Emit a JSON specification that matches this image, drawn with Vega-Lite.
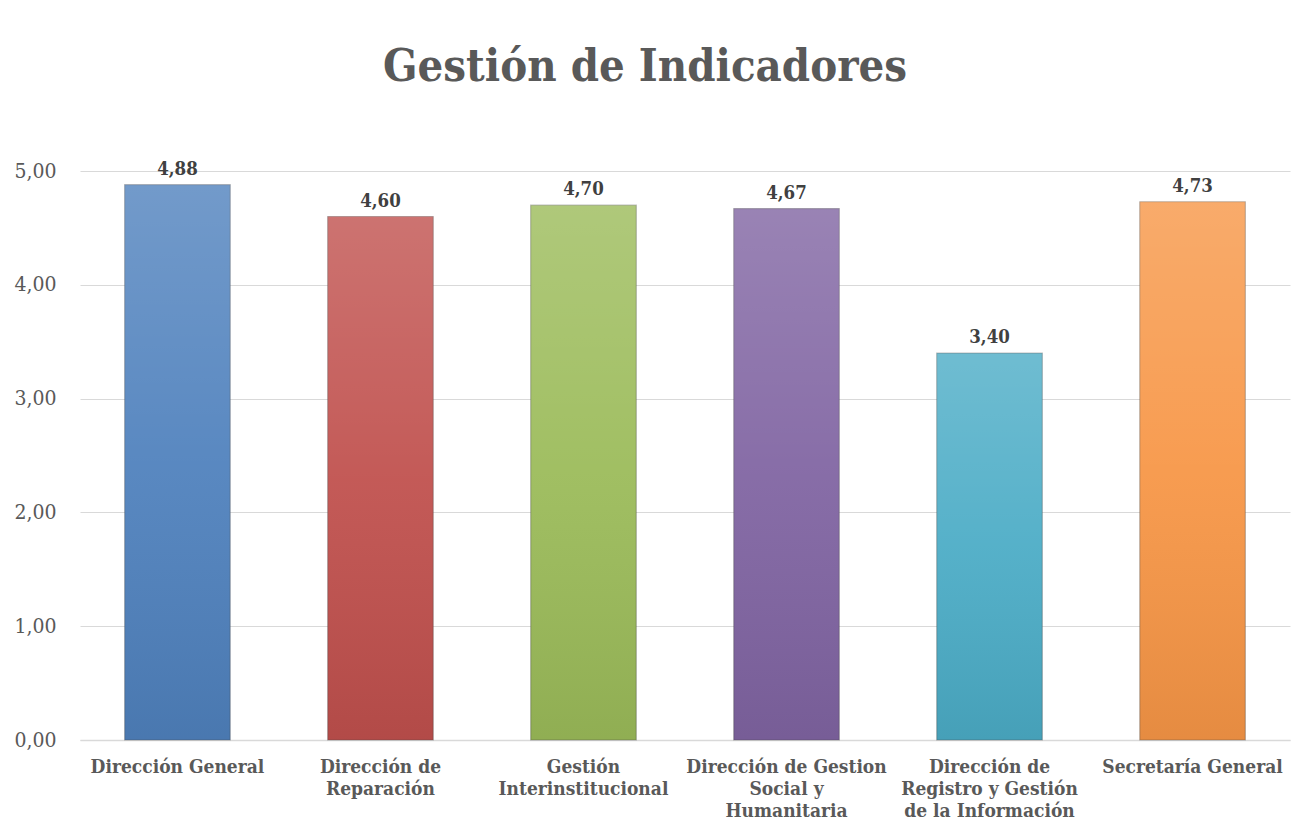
{
  "$schema": "https://vega.github.io/schema/vega-lite/v6.json",
  "autosize": "none",
  "width": 1210,
  "height": 569,
  "padding": {"left": 80, "top": 171, "right": 1, "bottom": 99},
  "background": "white",
  "title": {
    "text": "Gestión de Indicadores",
    "font": "DejaVu Serif Condensed",
    "fontSize": 45,
    "fontWeight": "bold",
    "color": "#595959",
    "anchor": "middle",
    "dx": -40,
    "offset": 70
  },
  "data": {
    "values": [
      {"area": "Dirección General", "valor": 4.88, "grupo": "a"},
      {"area": "Dirección de\nReparación", "valor": 4.60, "grupo": "b"},
      {"area": "Gestión\nInterinstitucional", "valor": 4.70, "grupo": "c"},
      {"area": "Dirección de Gestion\nSocial y\nHumanitaria", "valor": 4.67, "grupo": "d"},
      {"area": "Dirección de\nRegistro y Gestión\nde la Información", "valor": 3.40, "grupo": "e"},
      {"area": "Secretaría General", "valor": 4.73, "grupo": "f"}
    ]
  },
  "encoding": {
    "x": {
      "field": "area",
      "type": "nominal",
      "sort": null,
      "scale": {"paddingInner": 0.48, "paddingOuter": 0.22},
      "axis": {
        "title": null,
        "labelAngle": 0,
        "labelExpr": "split(datum.label, '\\n')",
        "labelFont": "DejaVu Serif Condensed",
        "labelFontSize": 19,
        "labelFontWeight": "bold",
        "labelColor": "#595959",
        "labelLineHeight": 22,
        "labelPadding": 17,
        "labelOverlap": false,
        "ticks": false,
        "domainColor": "#d9d9d9",
        "domainWidth": 1.5,
        "labelLimit": 300
      }
    },
    "y": {
      "field": "valor",
      "type": "quantitative",
      "scale": {"domain": [0, 5], "nice": false},
      "axis": {
        "title": null,
        "values": [0, 1, 2, 3, 4, 5],
        "labelOverlap": false,
        "labelExpr": "replace(format(datum.value, '.2f'), '.', ',')",
        "labelFont": "DejaVu Serif Condensed",
        "labelFontSize": 21,
        "labelColor": "#595959",
        "labelPadding": 24,
        "ticks": false,
        "domain": false,
        "gridColor": "#d9d9d9",
        "gridWidth": 1.2
      }
    }
  },
  "layer": [
    {
      "mark": {"type": "bar", "stroke": "#444444", "strokeOpacity": 0.35, "strokeWidth": 1.2},
      "encoding": {
        "color": {
          "field": "grupo",
          "type": "nominal",
          "scale": {
            "domain": ["a", "b", "c", "d", "e", "f"],
            "range": ["#4F81BD", "#C0504D", "#9BBB59", "#8064A2", "#4BACC6", "#F79646"]
          },
          "legend": null
        }
      }
    },
    {
      "mark": {
        "type": "bar",
        "fill": {
          "gradient": "linear",
          "x1": 0, "y1": 0, "x2": 0, "y2": 1,
          "stops": [
            {"offset": 0, "color": "rgba(255,255,255,0.2)"},
            {"offset": 0.5, "color": "rgba(255,255,255,0.06)"},
            {"offset": 1, "color": "rgba(0,0,0,0.07)"}
          ]
        }
      }
    },
    {
      "mark": {
        "type": "text",
        "baseline": "bottom",
        "dy": -6,
        "font": "DejaVu Serif Condensed",
        "fontSize": 18.5,
        "fontWeight": "bold",
        "color": "#404040"
      },
      "encoding": {
        "text": {"field": "valor", "type": "quantitative", "format": ".2f", "formatType": "number"}
      }
    }
  ],
  "config": {"view": {"stroke": null}, "locale": {"number": {"decimal": ",", "thousands": ".", "grouping": [3], "currency": ["", " €"]}}}
}
